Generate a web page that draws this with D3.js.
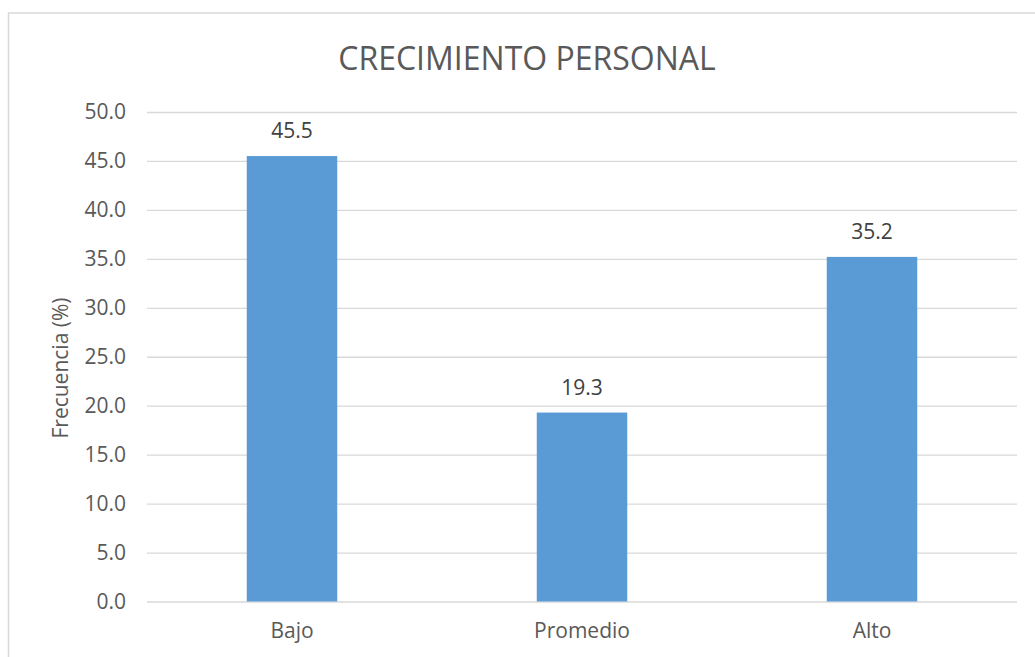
<!DOCTYPE html>
<html><head><meta charset="utf-8">
<script src="https://cdn.jsdelivr.net/npm/d3@7"></script>
<style>body{margin:0;background:#fff}svg{display:block}</style>
</head><body>
<script>
const categories = ["Bajo", "Promedio", "Alto"];
const values = [45.5, 19.3, 35.2];
const yTicks = [0, 5, 10, 15, 20, 25, 30, 35, 40, 45, 50];
const title = "CRECIMIENTO PERSONAL";
const yTitle = "Frecuencia (%)";

const W = 1035, H = 657;
const font = "'Open Sans', 'Liberation Sans', sans-serif";
const svg = d3.select("body").append("svg").attr("width", W).attr("height", H);
svg.append("rect").attr("width", W).attr("height", H).attr("fill", "#fff");
// chart border (right/bottom cropped)
svg.append("rect").attr("x", 8.5).attr("y", 13).attr("width", W + 20).attr("height", H + 20)
  .attr("fill", "none").attr("stroke", "#d9d9d9").attr("stroke-width", 1.5);

const x = d3.scaleBand().domain(categories).range([147, 1017]).paddingInner(0.688).paddingOuter(0.344);
const y = d3.scaleLinear().domain([0, 50]).range([601.5, 112]);

const yAxis = svg.append("g").attr("transform", "translate(147,0)")
  .call(d3.axisLeft(y).tickValues(yTicks).tickFormat(d3.format(".1f")).tickSize(-870).tickPadding(21));
yAxis.select(".domain").remove();
yAxis.selectAll(".tick line").attr("stroke", "#d9d9d9").attr("stroke-width", 1.3);
yAxis.selectAll(".tick text").attr("fill", "#595959").style("font-family", font).style("font-size", "21px");

svg.append("g").selectAll("rect").data(values).join("rect")
  .attr("x", (d, i) => x(categories[i]))
  .attr("width", x.bandwidth())
  .attr("y", d => y(d))
  .attr("height", d => y(0) - y(d))
  .attr("fill", "#5b9bd5");

svg.append("g").selectAll("text").data(values).join("text")
  .attr("x", (d, i) => x(categories[i]) + x.bandwidth() / 2)
  .attr("y", d => y(d) - 18)
  .attr("text-anchor", "middle").attr("fill", "#404040")
  .style("font-family", font).style("font-size", "21px")
  .text(d => d.toFixed(1));

const xAxis = svg.append("g").attr("transform", `translate(0,${y(0)})`)
  .call(d3.axisBottom(x).tickSize(0).tickPadding(22));
xAxis.select(".domain").remove();
xAxis.selectAll(".tick text").attr("fill", "#595959").style("font-family", font).style("font-size", "21px");

svg.append("text").attr("x", 527).attr("y", 70).attr("text-anchor", "middle")
  .attr("fill", "#595959").style("font-family", font).style("font-size", "32px").text(title);

svg.append("text").attr("transform", "translate(68,368) rotate(-90)").attr("text-anchor", "middle")
  .attr("fill", "#595959").style("font-family", font).style("font-size", "21px").text(yTitle);
</script>
</body></html>
